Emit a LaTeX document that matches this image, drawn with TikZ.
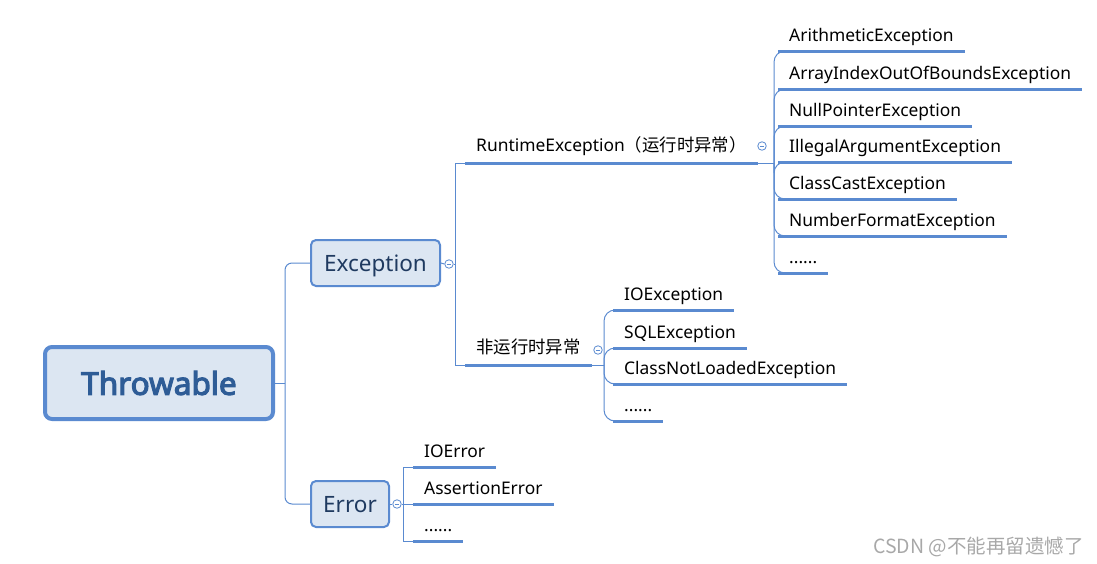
\documentclass[tikz,border=0pt]{standalone}
\usepackage{fontspec}
\setmainfont{Noto Sans}
\newfontfamily\cjk{Noto Sans CJK SC}
\newfontfamily\titlefont{Noto Sans}[FakeBold=3.6]
\newcommand\sixdots{......}
\definecolor{lineblue}{HTML}{5A8AD0}
\definecolor{boxfill}{HTML}{DCE6F2}
\definecolor{boxtext}{HTML}{1F3A60}
\definecolor{titletext}{HTML}{2E5C96}
\definecolor{wmgray}{HTML}{A8A8A8}
\begin{document}
\begin{tikzpicture}[x=1pt,y=-1pt,
  conn/.style={draw=lineblue, line width=1pt},
  uline/.style={draw=lineblue, line width=3pt},
  leaf/.style={anchor=south west, inner xsep=11pt, inner ysep=5pt, text depth=4pt, text height=13pt, font=\fontsize{17.4}{20}\selectfont, text=black},
  branch/.style={leaf, inner ysep=7pt},
  toggle/.style={circle, draw=lineblue, line width=0.8pt, minimum size=8.5pt, inner sep=0pt, fill=white,
    path picture={\draw[lineblue, line width=0.6pt] ([xshift=-2.2pt]path picture bounding box.center) -- ([xshift=2.2pt]path picture bounding box.center);}},
  topbox/.style={draw=lineblue, fill=boxfill, rounded corners=5pt, line width=2pt, inner sep=0pt, text=boxtext, font=\fontsize{22.5}{26}\selectfont},
]
\useasboundingbox (0,0) rectangle (1097,563);

% main boxes
\node[draw=lineblue, fill=boxfill, rounded corners=7pt, line width=4pt, minimum width=228pt, minimum height=72pt, text=titletext, font=\titlefont\fontsize{31.5}{36}\selectfont] (thr) at (159,383) {Throwable};
\node[topbox, minimum width=129pt, minimum height=46pt, text depth=0pt] (exc) at (375.5,263) {Exception};
\node[topbox, minimum width=78pt, minimum height=46pt, text depth=0pt] (err) at (350,504) {Error};

% Throwable connectors
\coordinate (j1) at (285,383);
\draw[conn] (thr.east) -- (j1);
\draw[conn, rounded corners=7pt] (j1) |- (exc.west);
\draw[conn, rounded corners=7pt] (j1) |- (err.west);

% Exception branch
\node[toggle] (t1) at (449,264) {};
\draw[conn] (exc.east) -- (t1.west);
\coordinate (j2) at (455,264);
\draw[conn] (t1.east) -- (j2);

\node[branch] (rt) at (465,163) {RuntimeException{\cjk （运行时异常）}};
\node[branch] (nr) at (465,365) {{\cjk 非运行时异常}};
\draw[uline] (rt.south west) -- (rt.south east);
\draw[uline] (nr.south west) -- (nr.south east);
\draw[conn] (j2) |- (rt.south west);
\draw[conn] (j2) |- (nr.south west);

% Runtime children
\node[toggle] (t2) at (762,146) {};
\coordinate (j3) at (774,163);
\draw[conn] (rt.south east) -- (j3);
\foreach \nm/\yy/\txt in {ae/51/ArithmeticException, aio/89/ArrayIndexOutOfBoundsException, npe/126/NullPointerException, iae/162/IllegalArgumentException, cce/199/ClassCastException, nfe/236/NumberFormatException, rdots/273/\sixdots}{
  \node[leaf] (\nm) at (778,\yy) {\txt};
  \draw[uline] (\nm.south west) -- (\nm.south east);
  \draw[conn, rounded corners=11pt] (j3) |- (\nm.south west);
}

% Non-runtime children
\node[toggle] (t3) at (598,350) {};
\coordinate (j4) at (604,365);
\draw[conn] (nr.south east) -- (j4);
\foreach \nm/\yy/\txt in {ioe/310/IOException, sqle/348/SQLException, cnle/384/ClassNotLoadedException, ndots/421/\sixdots}{
  \node[leaf] (\nm) at (613,\yy) {\txt};
  \draw[uline] (\nm.south west) -- (\nm.south east);
  \draw[conn, rounded corners=11pt] (j4) |- (\nm.south west);
}

% Error children
\node[toggle] (t4) at (397,504) {};
\draw[conn] (err.east) -- (t4.west);
\coordinate (j5) at (403,504);
\draw[conn] (t4.east) -- (j5);
\foreach \nm/\yy/\txt in {ioerr/467/IOError, asse/504/AssertionError, edots/541/\sixdots}{
  \node[leaf] (\nm) at (413,\yy) {\txt};
  \draw[uline] (\nm.south west) -- (\nm.south east);
  \draw[conn] (j5) |- (\nm.south west);
}

% watermark
\node[anchor=base west, inner sep=0pt, text=wmgray, font=\cjk\fontsize{19.5}{22}\selectfont] (wm) at (873,553) {CSDN @不能再留遗憾了};
\end{tikzpicture}
\end{document}
